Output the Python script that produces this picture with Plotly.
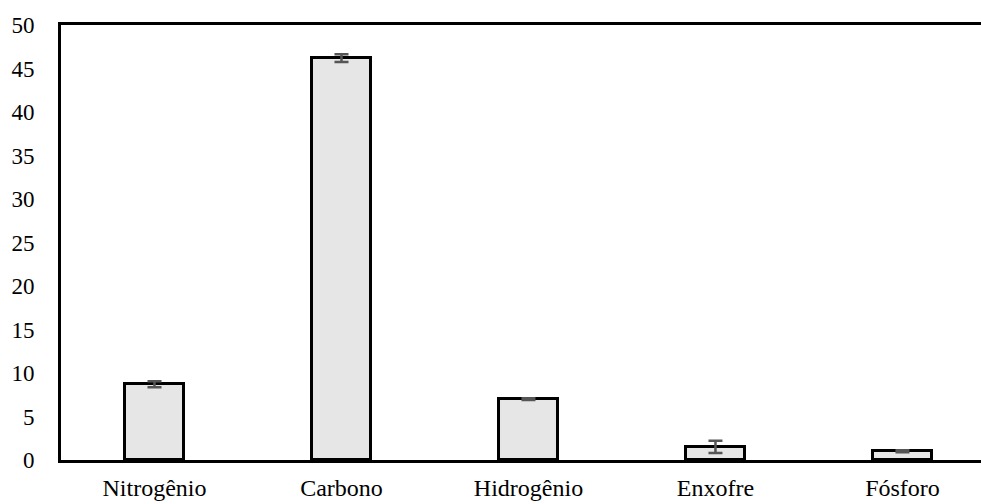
import plotly.graph_objects as go

categories = ["Nitrogênio", "Carbono", "Hidrogênio", "Enxofre", "Fósforo"]
values = [8.7, 46.2, 7.0, 1.5, 1.0]
errors = [0.35, 0.45, 0.1, 0.7, 0.12]
y_ticks = [0, 5, 10, 15, 20, 25, 30, 35, 40, 45, 50]

fig = go.Figure()
fig.add_trace(go.Bar(
    x=list(range(len(categories))),
    y=values,
    width=0.315,
    marker=dict(color="#e6e6e6", line=dict(color="black", width=3)),
    error_y=dict(type="data", array=errors, visible=True, color="#555555",
                 thickness=2.5, width=7),
))

font = dict(family="Liberation Serif, Times New Roman, serif", size=23, color="black")
fig.update_layout(
    width=981, height=504,
    margin=dict(l=61, r=0, t=25, b=44, autoexpand=False),
    paper_bgcolor="white", plot_bgcolor="white",
    showlegend=False,
    font=font,
    bargap=0,
)
fig.update_xaxes(
    range=[-0.5, 4.42],
    tickmode="array",
    tickvals=list(range(len(categories))),
    ticktext=categories,
    showline=True, linecolor="black", linewidth=2.5, mirror=True,
    showgrid=False, zeroline=False, ticks="",
    ticklabelstandoff=4,
    tickfont=dict(family="Liberation Serif, Times New Roman, serif", size=24, color="black"),
)
fig.update_yaxes(
    range=[0, 50],
    tickmode="array",
    tickvals=y_ticks,
    showline=True, linecolor="black", linewidth=3, mirror=False,
    showgrid=False, zeroline=False, ticks="",
    ticklabelstandoff=19,
    tickfont=font,
)

fig.write_html(
    "out.html",
    config={"displayModeBar": False},
    post_script="document.body.style.margin='0';document.body.style.overflow='hidden';",
)
